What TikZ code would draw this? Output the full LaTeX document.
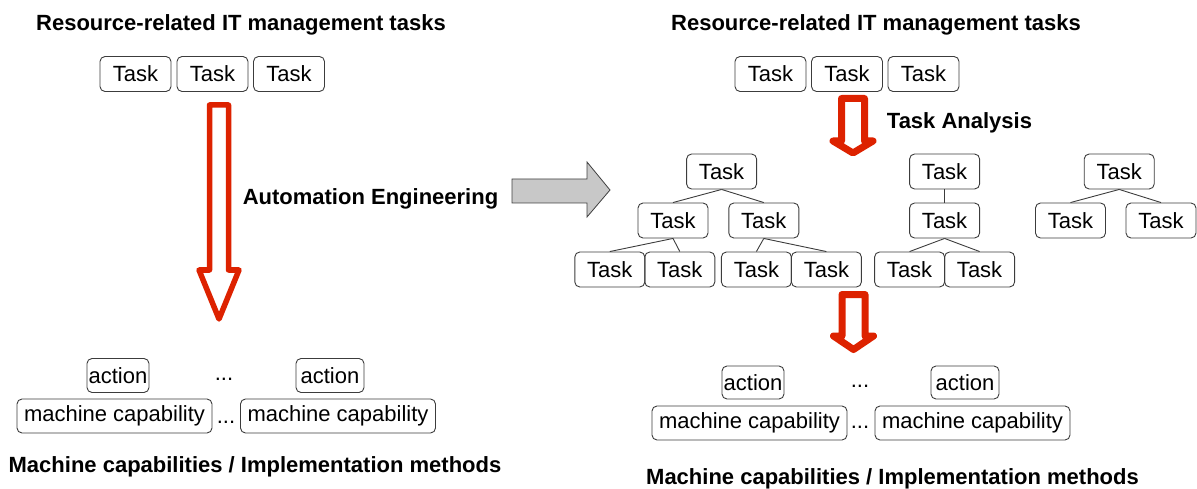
\documentclass[tikz,border=0pt]{standalone}
\usepackage{fontspec}
\setmainfont{Liberation Sans}
\definecolor{arrowred}{RGB}{221,34,0}
\definecolor{arrowgrey}{RGB}{200,200,200}
\definecolor{boxline}{RGB}{60,60,60}
\begin{document}
\begin{tikzpicture}[x=1pt,y=-1pt,
  every node/.style={inner sep=0pt},
  box/.style={draw=boxline, line width=0.9pt, rounded corners=5pt,
    minimum height=35pt, font=\fontsize{22}{26}\selectfont},
  task/.style={box, minimum width=70pt},
  actionbox/.style={box, minimum height=34pt},
  capbox/.style={box, minimum width=195pt, minimum height=34pt},
  title/.style={font=\fontsize{22}{26}\selectfont\bfseries, anchor=base},
  gap/.style={font=\fontsize{22}{26}\selectfont, anchor=base},
  link/.style={draw=boxline, line width=0.9pt},
  redarrow/.style={draw=arrowred, line join=round},
  greyarrow/.style={draw=black!75, fill=arrowgrey, line width=0.8pt, line join=miter}
]
\useasboundingbox (0,0) rectangle (1197,489);

% ---------------- left half ----------------
\node[title] (tl) at (241,31) {Resource-related IT management tasks};
\node[task, minimum width=71pt] (lt1) at (135.5,74) {Task};
\node[task, minimum width=71pt] (lt2) at (212.5,74) {Task};
\node[task, minimum width=71pt] (lt3) at (289,74) {Task};

% hollow arrow: automation engineering
\draw[redarrow, line width=5.5pt]
  (209.5,105) -- (228.5,105) -- (228.5,270) -- (239,270) -- (219,319)
  -- (199,270) -- (209.5,270) -- cycle;
\node[title] (ae) at (370.5,205) {Automation Engineering};

\node[actionbox, minimum width=62pt] (la1) at (118,375.5) {action};
\node[gap] (lad) at (224,380) {...};
\node[actionbox, minimum width=68pt] (la2) at (330,375.5) {action};
\node[capbox] (lc1) at (114.5,416) {machine capability};
\node[gap] (lcd) at (226,423.5) {...};
\node[capbox] (lc2) at (338,416) {machine capability};
\node[title] (bl) at (255,472.5) {Machine capabilities / Implementation methods};

% ---------------- transition arrow ----------------
\draw[greyarrow] (512,179) -- (587,179) -- (587,162) -- (610,190)
  -- (587,217) -- (587,203) -- (512,203) -- cycle;

% ---------------- right half ----------------
\node[title] (tr) at (876,31) {Resource-related IT management tasks};
\node[task, minimum width=71pt] (rt1) at (770.5,74) {Task};
\node[task, minimum width=71pt] (rt2) at (847,74) {Task};
\node[task, minimum width=71pt] (rt3) at (923.5,74) {Task};

\draw[redarrow, line width=7pt]
  (841.5,98.5) -- (864.5,98.5) -- (864.5,141) -- (873,141) -- (853,153)
  -- (833,141) -- (841.5,141) -- cycle;
\node[title] (ta) at (959.5,128.5) {Task Analysis};

% first task tree
\node[task] (a0) at (721.6,171.5) {Task};
\node[task] (a1) at (673,220.5) {Task};
\node[task] (a2) at (763.8,220.5) {Task};
\node[task] (a11) at (609.8,269.5) {Task};
\node[task] (a12) at (679.8,269.5) {Task};
\node[task] (a21) at (756.4,269.5) {Task};
\node[task] (a22) at (826.4,269.5) {Task};
\draw[link] (a0.south) -- (a1.north);
\draw[link] (a0.south) -- (a2.north);
\draw[link] (a1.south) -- (a11.north);
\draw[link] (a1.south) -- (a12.north);
\draw[link] (a2.south) -- (a21.north);
\draw[link] (a2.south) -- (a22.north);

% second task tree
\node[task] (b0) at (944.6,171.5) {Task};
\node[task] (b1) at (944.6,220.5) {Task};
\node[task] (b11) at (909.6,269.5) {Task};
\node[task] (b12) at (979.6,269.5) {Task};
\draw[link] (b0.south) -- (b1.north);
\draw[link] (b1.south) -- (b11.north);
\draw[link] (b1.south) -- (b12.north);

% third task tree
\node[task] (c0) at (1119.2,171.5) {Task};
\node[task] (c1) at (1070.5,220.5) {Task};
\node[task] (c2) at (1161,220.5) {Task};
\draw[link] (c0.south) -- (c1.north);
\draw[link] (c0.south) -- (c2.north);

\draw[redarrow, line width=7pt]
  (842,294.5) -- (865,294.5) -- (865,336) -- (873.5,336) -- (853.5,349.5)
  -- (833.5,336) -- (842,336) -- cycle;

\node[actionbox, minimum width=62pt, minimum height=33pt] (ra1) at (753,382.5) {action};
\node[gap] (rad) at (860,387) {...};
\node[actionbox, minimum width=68pt, minimum height=33pt] (ra2) at (965,382.5) {action};
\node[capbox] (rc1) at (749.5,423) {machine capability};
\node[gap] (rcd) at (860,428) {...};
\node[capbox] (rc2) at (972.5,423) {machine capability};
\node[title] (br) at (892.5,484) {Machine capabilities / Implementation methods};
\end{tikzpicture}
\end{document}
